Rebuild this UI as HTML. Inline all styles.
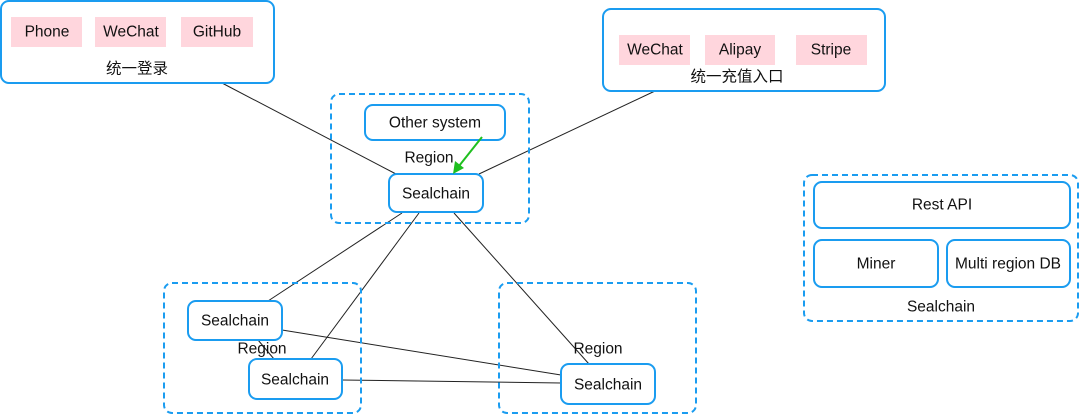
<!DOCTYPE html>
<html><head><meta charset="utf-8"><style>
body{margin:0;background:#fff}
svg text{font-family:"Liberation Sans","Noto Sans CJK SC",sans-serif;font-size:15.5px;fill:#111;text-anchor:middle;dominant-baseline:central}
</style></head><body>
<svg width="1080" height="414" viewBox="0 0 1080 414" xmlns="http://www.w3.org/2000/svg">
<g stroke="#222" stroke-width="1" fill="none">
<line x1="222" y1="83" x2="396" y2="174"/>
<line x1="655" y1="91" x2="479" y2="174"/>
<line x1="402" y1="213" x2="268" y2="301"/>
<line x1="419" y1="213" x2="311" y2="359"/>
<line x1="454" y1="213" x2="589" y2="364"/>
<line x1="282" y1="330" x2="561" y2="375"/>
<line x1="258" y1="340" x2="274" y2="359"/>
<line x1="342" y1="380" x2="561" y2="383"/>
</g>
<g fill="none" stroke="#1a9cf0" stroke-width="2" stroke-dasharray="6,4">
<rect x="331" y="94" width="198" height="129" rx="8"/>
<rect x="164" y="283" width="197" height="130" rx="8"/>
<rect x="499" y="283" width="197" height="130" rx="8"/>
<rect x="804" y="175" width="274" height="146" rx="8"/>
</g>
<g fill="#fff" stroke="#1a9cf0" stroke-width="2">
<rect x="1" y="1" width="273" height="82" rx="8"/>
<rect x="603" y="9" width="282" height="82" rx="8"/>
<rect x="365" y="105" width="140" height="35" rx="8"/>
<rect x="389" y="174" width="94" height="38" rx="8"/>
<rect x="188" y="301" width="94" height="39" rx="8"/>
<rect x="249" y="359" width="93" height="40" rx="8"/>
<rect x="561" y="364" width="94" height="40" rx="8"/>
<rect x="814" y="182" width="256" height="46" rx="8"/>
<rect x="814" y="240" width="124" height="47" rx="8"/>
<rect x="947" y="240" width="123" height="47" rx="8"/>
</g>
<g fill="#ffd6dd">
<rect x="11" y="17" width="71" height="30"/>
<rect x="95" y="17" width="71" height="30"/>
<rect x="181" y="17" width="72" height="30"/>
<rect x="619" y="35" width="71" height="30"/>
<rect x="705" y="35" width="70" height="30"/>
<rect x="796" y="35" width="71" height="30"/>
</g>
<line x1="482" y1="137" x2="459" y2="166" stroke="#1fbf1f" stroke-width="2"/>
<polygon points="453,174 455,161 464,168" fill="#1fbf1f"/>
<text x="47" y="32">Phone</text>
<text x="131" y="32">WeChat</text>
<text x="217" y="32">GitHub</text>
<text x="137" y="69">统一登录</text>
<text x="655" y="50">WeChat</text>
<text x="740" y="50">Alipay</text>
<text x="831" y="50">Stripe</text>
<text x="737" y="77">统一充值入口</text>
<text x="435" y="123">Other system</text>
<text x="429" y="158">Region</text>
<text x="436" y="194">Sealchain</text>
<text x="235" y="321">Sealchain</text>
<text x="262" y="349">Region</text>
<text x="295" y="380">Sealchain</text>
<text x="598" y="349">Region</text>
<text x="608" y="385">Sealchain</text>
<text x="942" y="205">Rest API</text>
<text x="876" y="264">Miner</text>
<text x="1008" y="264">Multi region DB</text>
<text x="941" y="307">Sealchain</text>
</svg>
</body></html>
